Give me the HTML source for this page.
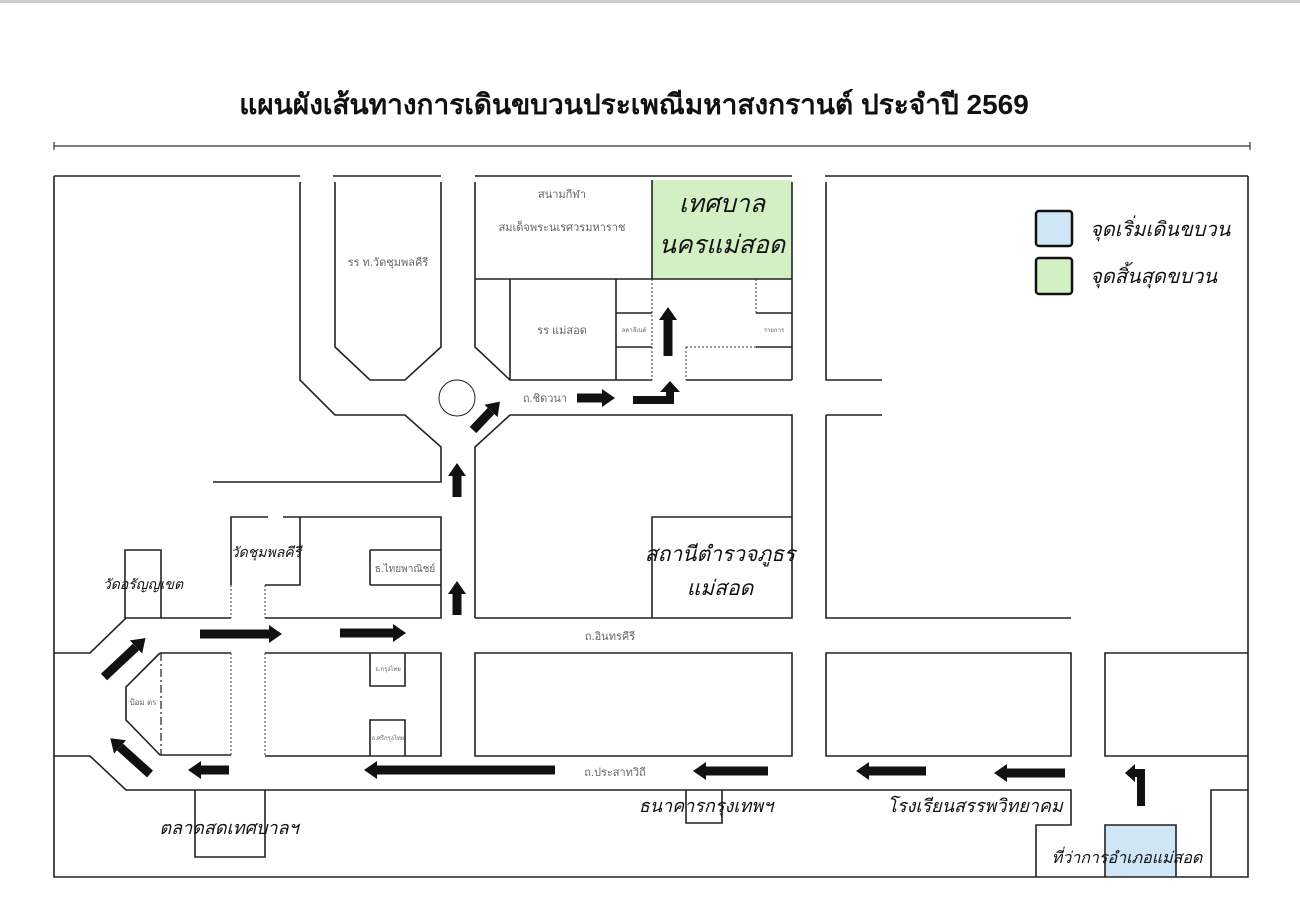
<!DOCTYPE html>
<html><head><meta charset="utf-8"><style>
body{margin:0;background:#fff;width:1300px;height:923px;overflow:hidden}
svg{display:block}
text{font-family:"Liberation Sans","Noto Sans CJK SC",sans-serif}
.it{font-style:italic;fill:#111}
.sm{fill:#666}
</style></head><body>
<svg width="1300" height="923" viewBox="0 0 1300 923" xmlns="http://www.w3.org/2000/svg">
<defs><marker id="a" markerWidth="16" markerHeight="20" refX="0" refY="9" orient="auto" markerUnits="userSpaceOnUse"><path d="M0,0 L13,9 L0,18z" fill="#111"/></marker></defs>
<rect x="0" y="0" width="1300" height="3" fill="#ccc"/>
<text x="634" y="114" text-anchor="middle" font-size="28" font-weight="bold" fill="#111">แผนผังเส้นทางการเดินขบวนประเพณีมหาสงกรานต์ ประจำปี 2569</text>
<path d="M54,146 H1250 M54,142 V150 M1250,142 V150" stroke="#333" stroke-width="1.2" fill="none"/>

<rect x="652" y="180" width="140" height="99" fill="#d3f0c4"/>
<rect x="1105" y="825" width="71" height="52" fill="#cfe6f7"/>

<g stroke="#222" stroke-width="1.6" fill="none">
<path d="M54,176 H300 M333,176 H441 M475,176 H792 M825,176 H1248"/>
<path d="M54,176 V877 H1248 V176"/>
<path d="M300,182 V380 L335,415 H405 L441,447 V482 H213"/>
<path d="M335,182 V347 L370,380 H405 L441,347 V182"/>
<circle cx="457" cy="398" r="18" stroke-width="1"/>
<path d="M475,182 V347 L510,380 H652 M475,279 H792 M652,180 V279 M510,279 V380 M616,279 V380 M616,313 H652 M616,347 H652 M686,380 H792 M756,313 H792 M756,347 H792 M792,182 V380"/>
<path d="M475,618 V447 L510,415 H792 V618 H475 M652,618 V517 H792"/>
<path d="M826,182 V380 H882 M826,415 H882 M826,415 V618 H1071"/>
<path d="M54,653 H90 L126,618 H231 M231,585 V517 H268 M283,517 H441 V618 H265 M265,585 H300 V517 M370,550 H441 M370,585 H441 M370,550 V585"/>
<path d="M125,618 V550 H161 V618"/>
<path d="M160,653 L126,687 V720 L160,755 H231 M160,653 H231 M265,653 H441 V756 H265 M370,653 V686 H405 V653 M370,756 V720 H405 V756"/>
<path d="M475,653 H792 V756 H475Z M826,653 H1071 V756 H826Z M1248,653 H1105 V756 H1248"/>
<path d="M54,756 H90 L126,790 H1071 V825 H1036 V877 M1211,877 V790 H1248"/>
<path d="M195,790 V857 H265 V790 M686,790 V823 H722 V790 M1105,877 V825 H1176 V877"/>
</g>
<g stroke="#333" stroke-width="1" stroke-dasharray="2,2" fill="none">
<path d="M652,279 V380 M686,347 V380 M686,347 H756 M756,279 V313 M231,585 V618 M265,585 V618 M231,653 V755 M265,653 V756"/>
</g>
<path d="M161,653 V755" stroke="#222" stroke-width="1.2" stroke-dasharray="8,3,2,3"/>

<g stroke="#111" stroke-width="9" fill="none" marker-end="url(#a)">
<path d="M457,497 V476"/>
<path d="M457,615 V594"/>
<path d="M473,430 L491,411"/>
<path d="M577,398 H602"/>
<path d="M668,356 V320"/>
<path d="M200,634 H269"/>
<path d="M340,633 H393"/>
<path d="M104,677 L136,647"/>
<path d="M150,774 L120,747"/>
<path d="M229,770 H201"/>
<path d="M555,770 H377"/>
<path d="M768,771 H706"/>
<path d="M926,771 H869"/>
<path d="M1065,773 H1007"/>
</g>
<path d="M633,396 H666 V392 H660 L670,381 L680,392 H674 V404 H633Z" fill="#111"/>
<path d="M1137,806 V777 H1135 V782 L1125,773 L1135,764 V769 H1145 V806Z" fill="#111"/>

<rect x="1036" y="211" width="36" height="35" rx="3" fill="#cfe6f7" stroke="#111" stroke-width="2.5"/>
<rect x="1036" y="258" width="36" height="36" rx="3" fill="#d3f0c4" stroke="#111" stroke-width="2.5"/>
<text x="1090" y="236" class="it" font-size="20">จุดเริ่มเดินขบวน</text>
<text x="1090" y="283" class="it" font-size="20">จุดสิ้นสุดขบวน</text>

<text x="722" y="212" class="it" font-size="25" text-anchor="middle">เทศบาล</text>
<text x="722" y="253" class="it" font-size="25" text-anchor="middle">นครแม่สอด</text>
<text x="720" y="561" class="it" font-size="21" text-anchor="middle">สถานีตำรวจภูธร</text>
<text x="720" y="595" class="it" font-size="21" text-anchor="middle">แม่สอด</text>
<text x="266" y="557" class="it" font-size="14" text-anchor="middle">วัดชุมพลคีรี</text>
<text x="143" y="589" class="it" font-size="14" text-anchor="middle">วัดอรัญญเขต</text>
<text x="229" y="834" class="it" font-size="18" text-anchor="middle">ตลาดสดเทศบาลฯ</text>
<text x="706" y="812" class="it" font-size="18" text-anchor="middle">ธนาคารกรุงเทพฯ</text>
<text x="975" y="812" class="it" font-size="18" text-anchor="middle">โรงเรียนสรรพวิทยาคม</text>
<text x="1127" y="863" class="it" font-size="16" text-anchor="middle">ที่ว่าการอำเภอแม่สอด</text>

<g class="sm" text-anchor="middle" font-size="11">
<text x="388" y="266">รร ท.วัดชุมพลคีรี</text>
<text x="562" y="198">สนามกีฬา</text>
<text x="562" y="231">สมเด็จพระนเรศวรมหาราช</text>
<text x="562" y="334">รร แม่สอด</text>
<text x="545" y="402">ถ.ชิดวนา</text>
<text x="610" y="640">ถ.อินทรคีรี</text>
<text x="615" y="776">ถ.ประสาทวิถี</text>
<text x="405" y="572" style="font-size:10px">ธ.ไทยพาณิชย์</text>
<text x="634" y="332" style="font-size:6px">ลคาลีเนต์</text>
<text x="774" y="332" style="font-size:6px">รายการ</text>
<text x="388" y="671" style="font-size:6px">ธ.กรุงไทย</text>
<text x="388" y="740" style="font-size:6px">ธ.ศรีกรุงไทย</text>
<text x="143" y="705" style="font-size:8px">ป้อม ตร</text>
</g>
</svg>
</body></html>
